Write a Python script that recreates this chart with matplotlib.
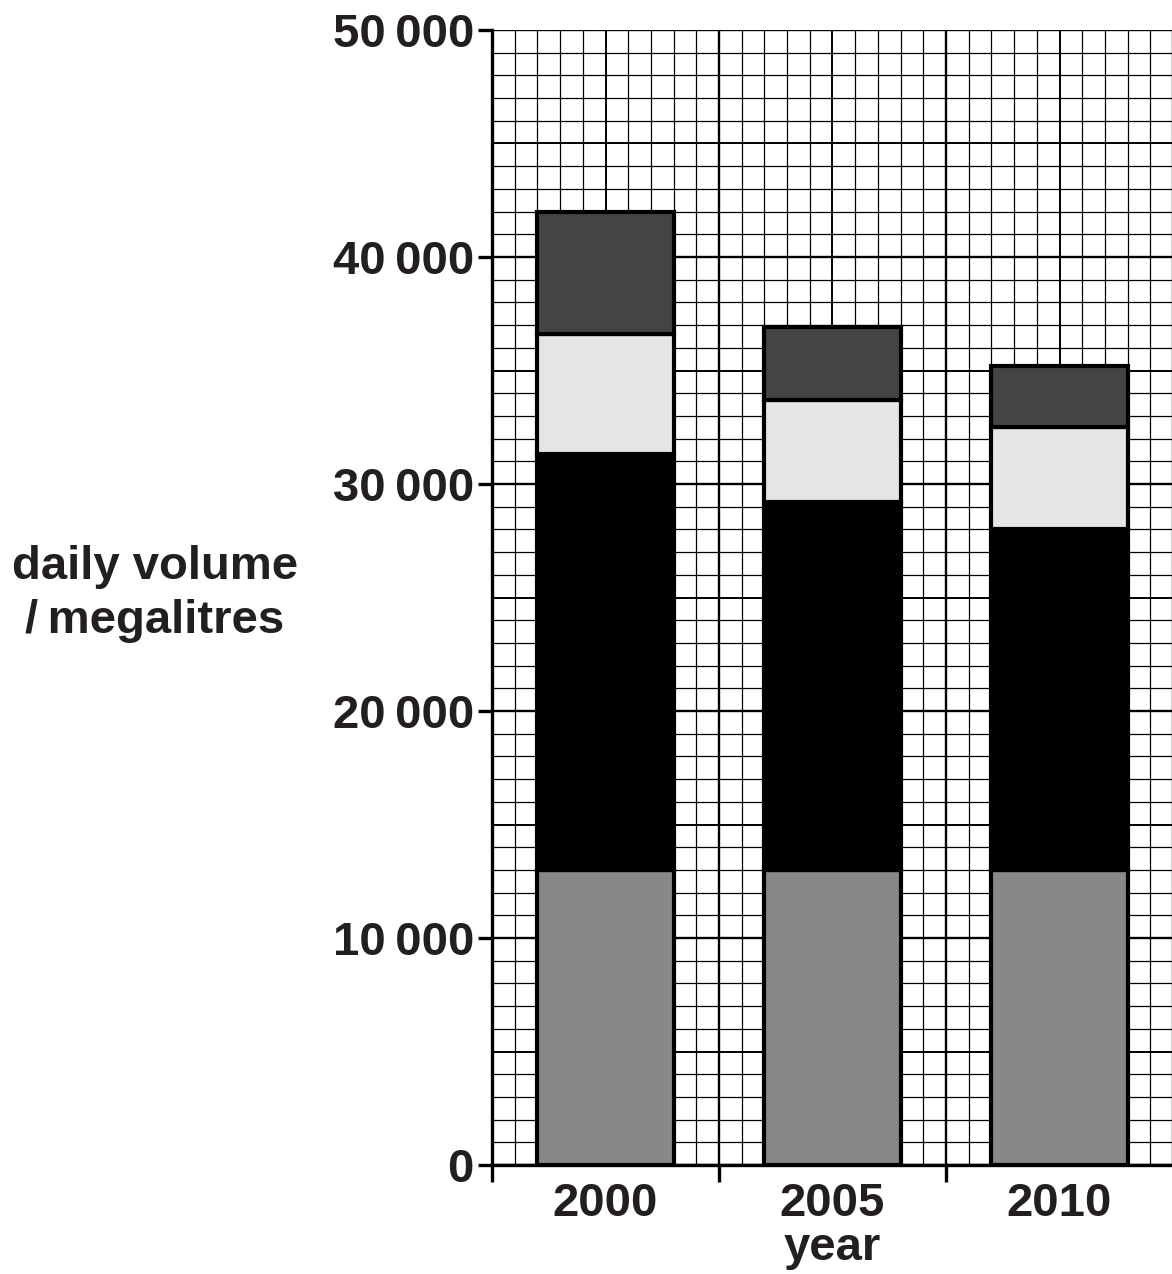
import matplotlib.pyplot as plt
import numpy as np

plt.rcParams['font.family'] = ['Liberation Sans', 'DejaVu Sans']

# data (daily volume, megalitres)
years = ["2000", "2005", "2010"]
seg1 = [13000, 13000, 13000]          # mid grey (bottom)
seg2 = [18300, 16200, 15000]          # black
seg3 = [5300, 4500, 4500]             # light grey
seg4 = [5400, 3200, 2700]             # dark grey (top)
colours = ["#888888", "#000000", "#e5e5e5", "#444444"]

ytick_vals = [0, 10000, 20000, 30000, 40000, 50000]
ytick_labels = ["0", "10\u2009000", "20\u2009000", "30\u2009000", "40\u2009000", "50\u2009000"]

txt = "#231f20"

fig = plt.figure(figsize=(11.72, 12.74), dpi=100)
ax = fig.add_axes([492 / 1172, 109 / 1274, 681 / 1172, 1135 / 1274])

x = np.arange(len(years))
ax.set_xlim(-0.5, 2.5)
ax.set_ylim(0, 50000)

# graph paper grid
for yv in np.arange(0, 50001, 1000):
    if yv % 10000 == 0:
        lw = 1.7
    elif yv % 5000 == 0:
        lw = 1.4
    else:
        lw = 0.9
    ax.axhline(yv, color="black", lw=lw, zorder=1)
for xv in np.arange(-0.5, 2.51, 0.1):
    k = int(round((xv + 0.5) * 10))
    if k % 10 == 0:
        lw = 1.7
    elif k % 5 == 0:
        lw = 1.4
    else:
        lw = 0.9
    ax.axvline(xv, color="black", lw=lw, zorder=1)

# stacked bars
bottom = np.zeros(len(years))
for seg, c in zip([seg1, seg2, seg3, seg4], colours):
    ax.bar(x, seg, width=0.6, bottom=bottom, color=c, edgecolor="black",
           linewidth=3, zorder=3)
    bottom += np.array(seg)

for s in ["top", "right"]:
    ax.spines[s].set_visible(False)
ax.spines["left"].set_linewidth(2.4)
ax.spines["bottom"].set_linewidth(2.4)
ax.spines["left"].set_zorder(4)
ax.spines["bottom"].set_zorder(4)

ax.set_yticks(ytick_vals)
ax.set_yticklabels(ytick_labels, fontsize=34, fontweight="bold", color=txt)
ax.tick_params(axis="y", length=10, width=2.4, pad=3)

ax.set_xticks([-0.5, 0.5, 1.5])
ax.set_xticklabels([])
ax.tick_params(axis="x", which="major", length=12, width=2.4)
ax.set_xticks(x, minor=True)
ax.set_xticklabels(years, minor=True, fontsize=34, fontweight="bold", color=txt)
ax.tick_params(axis="x", which="minor", length=0, pad=12)

ax.set_xlabel("year", fontsize=34, fontweight="bold", color=txt, labelpad=0)
fig.text(155 / 1172, 1 - 594 / 1274, "daily volume\n/\u2009megalitres", fontsize=34,
         fontweight="bold", color=txt, ha="center", va="center", linespacing=1.3)

fig.savefig("out.png", dpi=100)
